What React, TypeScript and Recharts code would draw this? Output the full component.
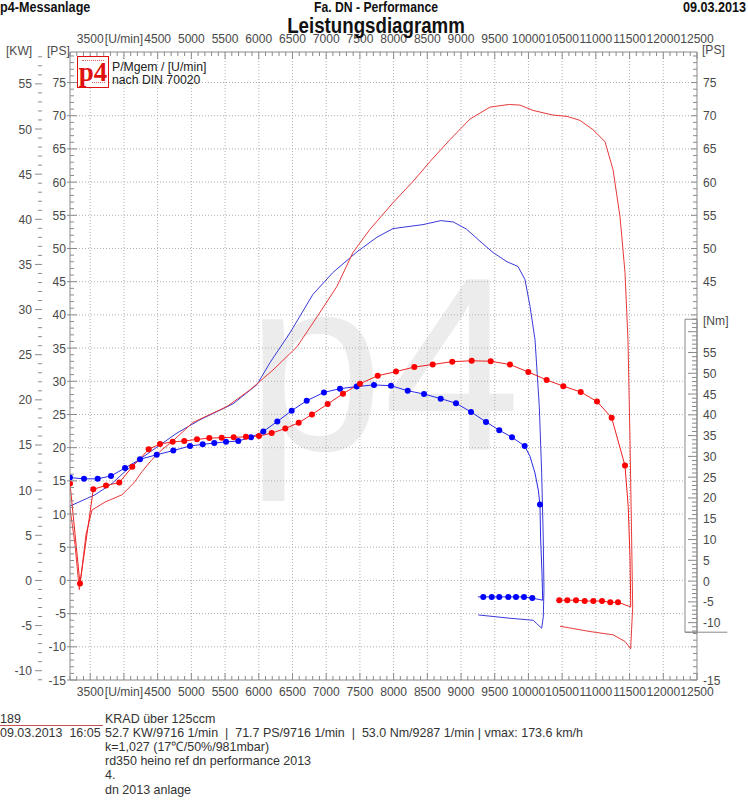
import React from 'react';
import { ComposedChart, Line, XAxis, YAxis, CartesianGrid, ReferenceArea, ReferenceLine } from 'recharts';

const FONT = '"Liberation Sans", Arial, Helvetica, sans-serif';
const SX_TICK = 0.93;
const AXIS = '#8a8a8a';
const LABEL = '#4a4a4a';

// ---------- axes ----------
const rpmMajor = [3500, 4000, 4500, 5000, 5500, 6000, 6500, 7000, 7500, 8000, 8500, 9000, 9500, 10000, 10500, 11000, 11500, 12000, 12500];
const rpmLabels = ['3500', '[U/min]', '4500', '5000', '5500', '6000', '6500', '7000', '7500', '8000', '8500', '9000', '9500', '10000', '10500', '11000', '11500', '12000', '12500'];
const rpmGrid = [3500, 4000, 4500, 5000, 5500, 6000, 6500, 7000, 7500, 8000, 8500, 9000, 9500, 10000, 10500, 11000, 11500, 12000];
const psGrid = [-10, -5, 0, 5, 10, 15, 20, 25, 30, 35, 40, 45, 50, 55, 60, 65, 70, 75];
const psRightLabels = [45, 50, 55, 60, 65, 70, 75, -15];
const RPM_MIN = 3200, RPM_MAX = 12500;
const PS_MIN = -15, PS_MAX = 79.6;
const KW_PER_PS = 1 / 1.36;
const NM_MIN = -23.8, NM_MAX = 127.3;

const range = (a: number, b: number, s: number) => { const r: number[] = []; for (let v = a; v <= b + 1e-9; v += s) r.push(Math.round(v)); return r; };
const rpmTicks = range(3200, 12500, 100);
const psTicks = range(-15, 79, 1);
const kwTicks = range(-11, 58, 1);
const nmTicks = range(-12, 63, 1);

// ---------- run 1 (red) ----------
const redPowerRpm = [3200, 3274, 3338, 3393, 3437, 3526, 3719, 3971, 4149, 4268, 4416, 4565, 4713, 5024, 5529, 5870, 6211, 6567, 6864, 7160, 7397, 7650, 7991, 8288, 8540, 8836, 9133, 9430, 9716, 9874, 10067, 10364, 10572, 10764, 10957, 11135, 11254, 11358, 11432, 11476, 11506, 11531, 11546, 11516, 11432, 11258, 10913, 10468];
const redPowerPs = [10.9, 5.4, -1.4, 3.1, 6.9, 10.6, 11.8, 12.9, 14.7, 16.4, 18.2, 19.7, 20.9, 23.8, 26.2, 28.7, 31.7, 35.2, 39.7, 44.3, 49.4, 52.9, 56.9, 60.1, 63.1, 66.4, 69.5, 71.3, 71.7, 71.6, 70.8, 70.1, 69.9, 69.3, 67.9, 66.1, 61.9, 54.8, 46.4, 36.3, 21.2, 6.1, -4.0, -10.3, -9.2, -8.2, -7.7, -6.9];

const redTorqueRpm = [3200, 3348, 3546, 3734, 3931, 4124, 4367, 4535, 4723, 4895, 5084, 5266, 5450, 5628, 5810, 6003, 6192, 6393, 6592, 6789, 7022, 7249, 7501, 7764, 8035, 8307, 8580, 8870, 9158, 9440, 9726, 9998, 10270, 10517, 10775, 11017, 11234, 11432];
const redTorqueNm = [23.5, -0.6, 22.1, 23.0, 23.7, 27.5, 31.7, 33.0, 33.5, 33.7, 34.1, 34.4, 34.5, 34.6, 34.7, 34.9, 35.6, 36.7, 38.1, 40.1, 42.6, 45.1, 47.5, 49.4, 50.4, 51.5, 52.1, 52.8, 53.0, 52.9, 52.1, 50.3, 48.4, 46.9, 45.5, 43.2, 39.3, 27.8];
const redTorqueDropRpm = [11480, 11506, 11516, 11516];
const redTorqueDropNm = [17.9, 5.9, -4.6, -6.2];
const redLossRpm = [11328, 11214, 11091, 10962, 10834, 10705, 10576, 10457];
const redLossNm = [-5.1, -5.1, -4.8, -4.8, -4.8, -4.6, -4.6, -4.6];
const redLossEndRpm = [10438];
const redLossEndNm = [-4.6];

// ---------- run 2 (blue) ----------
const bluePowerRpm = [3200, 3571, 3823, 4016, 4268, 4535, 4787, 5128, 5618, 5974, 6166, 6463, 6804, 7101, 7457, 7753, 7991, 8436, 8700, 8885, 9083, 9281, 9474, 9682, 9845, 9949, 10023, 10097, 10161, 10196, 10220, 10230, 10220, 10196, 10122, 10072, 9726, 9256];
const bluePowerPs = [11.2, 12.9, 14.6, 16.4, 18.5, 20.4, 22.2, 24.2, 26.6, 29.5, 32.8, 37.3, 43.1, 46.4, 49.5, 51.7, 53.0, 53.6, 54.2, 54.0, 52.9, 51.1, 49.4, 48.0, 47.3, 45.3, 41.3, 36.3, 26.2, 16.2, 6.1, -1.4, -5.5, -7.2, -6.5, -6.0, -5.7, -5.2];

const blueTorqueRpm = [3200, 3408, 3611, 3808, 4016, 4238, 4486, 4732, 4980, 5168, 5340, 5514, 5696, 5885, 6067, 6275, 6488, 6711, 6967, 7205, 7452, 7709, 7961, 8209, 8451, 8698, 8925, 9148, 9370, 9567, 9756, 9944, 10171];
const blueTorqueNm = [24.9, 24.6, 24.6, 25.3, 27.2, 29.3, 30.4, 31.4, 32.5, 32.9, 33.2, 33.5, 33.7, 34.6, 36.0, 38.4, 41.0, 43.4, 45.4, 46.3, 46.8, 47.2, 47.0, 45.8, 45.0, 43.9, 42.8, 40.7, 38.3, 36.3, 34.6, 32.5, 18.4];
const blueTorqueBendRpm = [10023, 10097, 10146];
const blueTorqueBendNm = [30.0, 26.0, 21.9];
const blueTorqueDropRpm = [10181, 10201, 10211];
const blueTorqueDropNm = [9.9, 1.9, -4.6];
const blueLossRpm = [10057, 9934, 9815, 9701, 9567, 9455, 9330];
const blueLossNm = [-4.1, -3.8, -3.8, -3.8, -3.8, -3.8, -3.8];
const blueLossEndRpm = [9251];
const blueLossEndNm = [-3.8];

type Pt = { rpm: number; v: number };
const zip = (xs: number[], ys: number[]): Pt[] => xs.map((r, i) => ({ rpm: r, v: ys[i] }));

const redPower = zip(redPowerRpm, redPowerPs);
const bluePower = zip(bluePowerRpm, bluePowerPs);
const redTorqueDots = [...zip(redTorqueRpm, redTorqueNm), ...zip(redLossRpm, redLossNm)];
const redTorqueLine = [
  ...zip(redTorqueRpm, redTorqueNm),
  ...zip(redTorqueDropRpm, redTorqueDropNm),
  ...zip(redLossRpm, redLossNm),
  ...zip(redLossEndRpm, redLossEndNm),
];
const blueMain = zip(blueTorqueRpm, blueTorqueNm);
const blueTorqueDots = [...blueMain, ...zip(blueLossRpm, blueLossNm)];
const blueTorqueLine = [
  ...blueMain.slice(0, -1),
  ...zip(blueTorqueBendRpm, blueTorqueBendNm),
  blueMain[blueMain.length - 1],
  ...zip(blueTorqueDropRpm, blueTorqueDropNm),
  ...zip(blueLossRpm, blueLossNm),
  ...zip(blueLossEndRpm, blueLossEndNm),
];

// axis ids: recharts stacks same-side axes by id, the first id sits next to the plot
const ID_PS = 'aPS';
const ID_KW = 'bKW';
const ID_PSR = 'aPSR';
const ID_NM = 'bNM';

// ---------- tick renderers ----------
const txt = (x: number, y: number, s: string | number, anchor: string) => (
  <text transform={`translate(${x},${y}) scale(${SX_TICK},1)`} textAnchor={anchor} fontSize={13} fill={LABEL} fontFamily={FONT}>{s}</text>
);

const TopTick = (p: any) => {
  const v = p.payload.value;
  const major = v % 500 === 0;
  const idx = rpmMajor.indexOf(v);
  return (
    <g>
      <line x1={p.x} x2={p.x} y1={p.y} y2={p.y + (major ? 7 : 4)} stroke={AXIS} />
      {idx >= 0 && txt(p.x, p.y - 9, rpmLabels[idx], 'middle')}
    </g>
  );
};
const BottomTick = (p: any) => {
  const v = p.payload.value;
  const major = v % 500 === 0;
  const idx = rpmMajor.indexOf(v);
  return (
    <g>
      <line x1={p.x} x2={p.x} y1={p.y} y2={p.y - (major ? 7 : 4)} stroke={AXIS} />
      {idx >= 0 && txt(p.x, p.y + 16, rpmLabels[idx], 'middle')}
    </g>
  );
};
const PsLeftTick = (p: any) => {
  const v = p.payload.value;
  const major = v % 5 === 0;
  return (
    <g>
      <line x1={major ? p.x - 3 : p.x} x2={p.x + (major ? 7 : 4)} y1={p.y} y2={p.y} stroke={AXIS} />
      {major && txt(p.x - 4, p.y + 4.5, v, 'end')}
    </g>
  );
};
const KwTick = (p: any) => {
  const v = p.payload.value;
  const major = v % 5 === 0;
  return (
    <g>
      <line x1={p.x - (major ? 9 : 6)} x2={p.x - 2} y1={p.y} y2={p.y} stroke={AXIS} />
      {major && txt(p.x - 12, p.y + 4.5, v, 'end')}
    </g>
  );
};
const PsRightTick = (p: any) => {
  const v = p.payload.value;
  if (v > -8 && v < 40) return <g />;
  const major = v % 5 === 0;
  return (
    <g>
      <line x1={p.x - (major ? 6 : 4)} x2={p.x} y1={p.y} y2={p.y} stroke={AXIS} />
      {psRightLabels.includes(v) && txt(p.x + 6, p.y + 4.5, v, 'start')}
    </g>
  );
};
const NmTick = (p: any) => {
  const v = p.payload.value;
  const major = v % 5 === 0;
  return (
    <g>
      <line x1={p.x - (major ? 10 : 6)} x2={p.x - 1} y1={p.y} y2={p.y} stroke={AXIS} />
      {major && v >= -10 && v <= 55 && txt(p.x + 5, p.y + 4.5, v, 'start')}
    </g>
  );
};

// ---------- html text helper ----------
const T = ({ x, y, children, size = 13, bold = false, anchor = 'start', color = '#333', sx = 0.93 }: any) => {
  const tx = anchor === 'start' ? '0' : anchor === 'middle' ? '-50%' : '-100%';
  const origin = anchor === 'start' ? 'left center' : anchor === 'middle' ? 'center center' : 'right center';
  return (
    <div style={{ position: 'absolute', left: x, top: y, fontFamily: FONT, fontSize: size, fontWeight: bold ? 'bold' : 'normal', color, whiteSpace: 'pre', lineHeight: 1, transform: `translate(${tx}, -50%) scaleX(${sx})`, transformOrigin: origin }}>
      {children}
    </div>
  );
};

const redDot = { r: 3, fill: '#ff0000', stroke: 'none' };
const blueDot = { r: 3, fill: '#0000ff', stroke: 'none' };

export default function App() {
  return (
    <div style={{ position: 'relative', width: 748, height: 800, background: '#fff', overflow: 'hidden' }}>
      <style>{'body{margin:0}'}</style>
      <svg style={{ position: 'absolute', left: 0, top: 0 }} width={748} height={800}>
        <text x={246} y={450} fontSize={247} fill="#ececec" fontFamily={FONT}>p4</text>
      </svg>
      <div style={{ position: 'absolute', left: 0, top: 0 }}>
        <ComposedChart width={748} height={800} margin={{ top: 0, right: 0, bottom: 0, left: 0 }}>
          <CartesianGrid xAxisId="bottom" yAxisId={ID_PS} horizontalValues={psGrid} verticalValues={rpmGrid} stroke="#b0b0b0" strokeDasharray="1 2" />
          <ReferenceArea xAxisId="bottom" yAxisId={ID_NM} x1={12322} x2={RPM_MAX} y1={-12.3} y2={63} fill="#ffffff" fillOpacity={1} stroke={AXIS} ifOverflow="visible" />
          <ReferenceLine xAxisId="bottom" yAxisId={ID_NM} segment={[{ x: 12322, y: -12.3 }, { x: 12950, y: -12.3 }]} stroke={AXIS} ifOverflow="visible" />
          <XAxis xAxisId="bottom" type="number" dataKey="rpm" domain={[RPM_MIN, RPM_MAX]} allowDataOverflow ticks={rpmTicks} interval={0} height={120} tickSize={0} tickMargin={0} tickLine={false} axisLine={{ stroke: AXIS }} tick={(p: any) => <BottomTick {...p} />} />
          <XAxis xAxisId="top" orientation="top" type="number" dataKey="rpm" domain={[RPM_MIN, RPM_MAX]} allowDataOverflow ticks={rpmTicks} interval={0} height={52} tickSize={0} tickMargin={0} tickLine={false} axisLine={{ stroke: AXIS }} tick={(p: any) => <TopTick {...p} />} />
          <YAxis yAxisId={ID_PS} orientation="left" type="number" domain={[PS_MIN, PS_MAX]} allowDataOverflow ticks={psTicks} interval={0} width={26} tickSize={0} tickMargin={0} tickLine={false} axisLine={{ stroke: AXIS }} tick={(p: any) => <PsLeftTick {...p} />} />
          <YAxis yAxisId={ID_KW} orientation="left" type="number" domain={[PS_MIN * KW_PER_PS, PS_MAX * KW_PER_PS]} allowDataOverflow ticks={kwTicks} interval={0} width={44} tickSize={0} tickMargin={0} tickLine={false} axisLine={false} tick={(p: any) => <KwTick {...p} />} />
          <YAxis yAxisId={ID_PSR} orientation="right" type="number" domain={[PS_MIN, PS_MAX]} allowDataOverflow ticks={psTicks} interval={0} width={1} tickSize={0} tickMargin={0} tickLine={false} axisLine={{ stroke: AXIS }} tick={(p: any) => <PsRightTick {...p} />} />
          <YAxis yAxisId={ID_NM} orientation="right" type="number" domain={[NM_MIN, NM_MAX]} allowDataOverflow ticks={nmTicks} interval={0} width={50} tickSize={0} tickMargin={0} tickLine={false} axisLine={false} tick={(p: any) => <NmTick {...p} />} />

          <Line xAxisId="bottom" yAxisId={ID_PS} data={bluePower} dataKey="v" type="linear" stroke="#3a3ad8" strokeWidth={1} dot={false} activeDot={false} isAnimationActive={false} />
          <Line xAxisId="bottom" yAxisId={ID_PS} data={redPower} dataKey="v" type="linear" stroke="#e83a3a" strokeWidth={1} dot={false} activeDot={false} isAnimationActive={false} />
          <Line xAxisId="bottom" yAxisId={ID_NM} data={blueTorqueLine} dataKey="v" type="linear" stroke="#2a2ae8" strokeWidth={1} dot={false} activeDot={false} isAnimationActive={false} />
          <Line xAxisId="bottom" yAxisId={ID_NM} data={redTorqueLine} dataKey="v" type="linear" stroke="#f02020" strokeWidth={1} dot={false} activeDot={false} isAnimationActive={false} />
          <Line xAxisId="bottom" yAxisId={ID_NM} data={blueTorqueDots} dataKey="v" stroke="none" dot={blueDot} activeDot={false} isAnimationActive={false} />
          <Line xAxisId="bottom" yAxisId={ID_NM} data={redTorqueDots} dataKey="v" stroke="none" dot={redDot} activeDot={false} isAnimationActive={false} />
        </ComposedChart>
      </div>

      {/* header */}
      <T x={0} y={7} size={14} bold color="#111" sx={0.9}>p4-Messanlage</T>
      <T x={376} y={7} size={14} bold anchor="middle" color="#111" sx={0.87}>Fa. DN - Performance</T>
      <T x={746} y={7} size={14} bold anchor="end" color="#111" sx={0.9}>09.03.2013</T>
      <T x={376} y={26} size={22} bold anchor="middle" color="#111" sx={0.85}>Leistungsdiagramm</T>

      {/* axis units */}
      <T x={6} y={50} color={LABEL}>[KW]</T>
      <T x={47} y={50} color={LABEL}>[PS]</T>
      <T x={702} y={49} color={LABEL}>[PS]</T>
      <T x={703} y={320} color={LABEL}>[Nm]</T>

      {/* logo + legend */}
      <div style={{ position: 'absolute', left: 77, top: 56, width: 30, height: 30, border: '1px solid #e01010', background: '#fff' }}>
        <div style={{ position: 'absolute', left: 4, right: 4, top: 3, borderTop: '1px dotted #e06060' }} />
        <div style={{ position: 'absolute', left: 0, right: 0, top: 1, textAlign: 'center', fontFamily: '"Liberation Serif", "DejaVu Serif", serif', fontSize: 27, lineHeight: '28px', color: '#e01010', fontWeight: 'bold' }}>p4</div>
        <div style={{ position: 'absolute', left: 14, right: 3, top: 25, borderTop: '1px dotted #e06060' }} />
      </div>
      <T x={112} y={66} color="#222" sx={0.94}>P/Mgem / [U/min]</T>
      <T x={112} y={79} color="#222" sx={0.94}>nach DIN 70020</T>

      {/* footer */}
      <T x={0} y={718} color="#333" sx={0.96}>189</T>
      <div style={{ position: 'absolute', left: 0, top: 725, width: 103, height: 1, background: '#c85050' }} />
      <T x={105} y={718} color="#333" sx={0.96}>KRAD über 125ccm</T>
      <T x={0} y={732} color="#333" sx={0.96}>09.03.2013  16:05</T>
      <T x={105} y={732} color="#333" sx={0.96}>52.7 KW/9716 1/min  |  71.7 PS/9716 1/min  |  53.0 Nm/9287 1/min | vmax: 173.6 km/h</T>
      <T x={105} y={746} color="#333" sx={0.96}>k=1,027 (17℃/50%/981mbar)</T>
      <T x={105} y={760} color="#333" sx={0.96}>rd350 heino ref dn performance 2013</T>
      <T x={105} y={774} color="#333" sx={0.96}>4.</T>
      <T x={105} y={789} color="#333" sx={0.96}>dn 2013 anlage</T>
    </div>
  );
}
